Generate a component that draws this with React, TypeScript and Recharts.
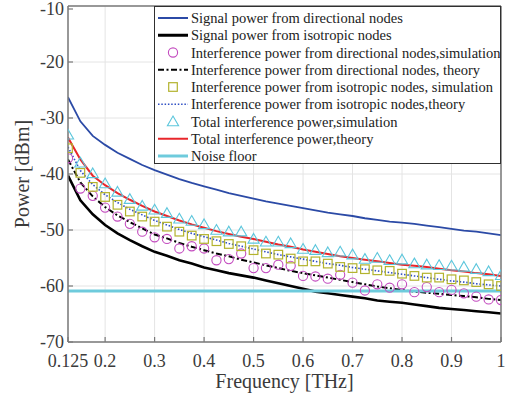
import {
  LineChart,
  Line,
  XAxis,
  YAxis,
  CartesianGrid,
  Legend,
  ReferenceLine,
  Label,
} from "recharts";

// frequency samples [THz]
const freq = [
  0.125, 0.15, 0.175, 0.2, 0.225, 0.25, 0.275, 0.3, 0.325, 0.35, 0.375, 0.4,
  0.425, 0.45, 0.475, 0.5, 0.525, 0.55, 0.575, 0.6, 0.625, 0.65, 0.675, 0.7,
  0.725, 0.75, 0.775, 0.8, 0.825, 0.85, 0.875, 0.9, 0.925, 0.95, 0.975, 1.0,
];

const signalDirectional = [
  -26.3, -30.6, -33.2, -34.8, -36.2, -37.3, -38.4, -39.3, -40.1, -40.9, -41.6,
  -42.2, -42.8, -43.4, -43.9, -44.4, -44.9, -45.3, -45.7, -46.1, -46.5, -46.9,
  -47.2, -47.5, -47.9, -48.2, -48.5, -48.7, -48.9, -49.2, -49.5, -49.8, -50.1,
  -50.3, -50.6, -50.9,
];

const signalIsotropic = [
  -40.3, -44.7, -47.2, -49.1, -50.6, -51.8, -52.9, -53.9, -54.6, -55.4, -56.0,
  -56.7, -57.2, -57.7, -58.1, -58.5, -59.0, -59.5, -60.0, -60.5, -61.0, -61.3,
  -61.6, -61.9, -62.2, -62.6, -62.8, -63.0, -63.3, -63.6, -63.9, -64.1, -64.3,
  -64.5, -64.7, -64.9,
];

const intDirSim = [
  -37.2, -42.6, -43.9, -46.0, -47.6, -48.9, -50.3, -51.3, -51.6, -53.3, -52.9,
  -53.3, -55.4, -55.2, -54.2, -56.8, -56.8, -56.2, -56.4, -58.2, -58.3, -58.7,
  -58.0, -59.4, -60.8, -59.7, -60.3, -59.7, -61.1, -60.2, -61.1, -60.7, -61.3,
  -61.9, -62.4, -62.5,
];

const intDirTheory = [
  -37.4, -41.5, -44.0, -45.9, -47.4, -48.6, -49.7, -50.8, -51.5, -52.3, -53.0,
  -53.6, -54.2, -54.7, -55.3, -55.8, -56.3, -56.8, -57.3, -57.7, -58.1, -58.5,
  -58.9, -59.3, -59.7, -60.1, -60.4, -60.7, -61.0, -61.2, -61.4, -61.6, -61.8,
  -62.0, -62.3, -62.5,
];

const intIsoSim = [
  -35.4, -39.8, -42.3, -44.1, -45.5, -46.7, -47.6, -48.5, -49.4, -50.3, -51.0,
  -51.6, -52.0, -52.5, -52.9, -53.6, -54.2, -54.4, -55.1, -55.6, -55.6, -56.0,
  -56.6, -56.8, -57.0, -57.2, -57.3, -57.8, -58.2, -58.5, -58.5, -58.8, -59.0,
  -59.3, -59.7, -60.0,
];

const intIsoTheory = [
  -35.2, -39.4, -41.9, -43.7, -45.1, -46.3, -47.3, -48.3, -49.1, -49.9, -50.6,
  -51.2, -51.8, -52.4, -52.9, -53.4, -53.9, -54.4, -54.8, -55.2, -55.6, -56.0,
  -56.3, -56.7, -57.0, -57.3, -57.6, -57.9, -58.2, -58.5, -58.8, -59.1, -59.3,
  -59.6, -59.8, -60.0,
];

const totalSim = [
  -33.0, -38.0, -39.9, -41.7, -43.2, -44.5, -45.7, -46.4, -47.0, -48.0, -48.4,
  -49.0, -50.0, -50.3, -50.3, -51.6, -52.1, -52.1, -52.4, -53.4, -53.6, -54.0,
  -53.9, -54.4, -55.2, -55.0, -55.4, -55.3, -56.0, -56.2, -56.3, -56.4, -56.6,
  -57.0, -57.4, -58.1,
];

const totalTheory = [
  -33.5, -37.4, -40.3, -42.0, -43.4, -44.6, -45.7, -46.7, -47.5, -48.3, -49.0,
  -49.6, -50.2, -50.7, -51.2, -51.6, -52.1, -52.6, -53.0, -53.5, -53.9, -54.3,
  -54.7, -55.0, -55.3, -55.6, -55.9, -56.2, -56.4, -56.6, -56.9, -57.2, -57.4,
  -57.7, -57.9, -58.2,
];

const noiseFloor = -60.9;

const xTicks = [0.125, 0.2, 0.3, 0.4, 0.5, 0.6, 0.7, 0.8, 0.9, 1];
const yTicks = [-70, -60, -50, -40, -30, -20, -10];

const legendLabels = [
  "Signal power from directional nodes",
  "Signal power from isotropic nodes",
  "Interference power from directional nodes,simulation",
  "Interference power from directional nodes, theory",
  "Interference power from isotropic nodes, simulation",
  "Interference power from isotropic nodes,theory",
  "Total interference power,simulation",
  "Total interference power,theory",
  "Noise floor",
];

const FONT = "Liberation Serif";
const AXIS = "#7a7a7a";
const TEXT = "#3a3a3a";
const BLUE = "#2b4aa6";
const MAGENTA = "#c34bbf";
const OLIVE = "#b3b32e";
const DOTBLUE = "#2f4fc4";
const CYAN = "#5cc6dc";
const RED = "#e8262b";
const NOISE = "#6ecbdc";

type LegendStyle = {
  kind: "line" | "circle" | "square" | "triangle";
  color: string;
  width?: number;
  dash?: string;
};

const legendStyles: LegendStyle[] = [
  { kind: "line", color: BLUE, width: 2 },
  { kind: "line", color: "#000", width: 3 },
  { kind: "circle", color: MAGENTA },
  { kind: "line", color: "#000", width: 2, dash: "6 2.5 2 2.5" },
  { kind: "square", color: OLIVE },
  { kind: "line", color: DOTBLUE, width: 1.6, dash: "1.5 1.8" },
  { kind: "triangle", color: CYAN },
  { kind: "line", color: RED, width: 2 },
  { kind: "line", color: NOISE, width: 3 },
];

const chartData = freq.map((f, i) => ({
  f,
  sigDir: signalDirectional[i],
  sigIso: signalIsotropic[i],
  dirSim: intDirSim[i],
  dirTh: intDirTheory[i],
  isoSim: intIsoSim[i],
  isoTh: intIsoTheory[i],
  totSim: totalSim[i],
  totTh: totalTheory[i],
}));

const drawMarker = (
  kind: string,
  color: string,
  cx: number,
  cy: number,
  key?: string
) => {
  if (kind === "circle")
    return (
      <circle key={key} cx={cx} cy={cy} r={4.6} fill="none" stroke={color} strokeWidth={1.1} />
    );
  if (kind === "square")
    return (
      <rect
        key={key}
        x={cx - 4.3}
        y={cy - 4.3}
        width={8.6}
        height={8.6}
        fill="none"
        stroke={color}
        strokeWidth={1.2}
      />
    );
  return (
    <path
      key={key}
      d={`M${cx},${cy - 5.5} L${cx + 5.6},${cy + 4.2} L${cx - 5.6},${cy + 4.2} Z`}
      fill="none"
      stroke={color}
      strokeWidth={1.1}
    />
  );
};

const markerDot = (kind: string, color: string) => (props: any) => {
  const { cx, cy, index } = props;
  if (cx == null || cy == null) return <g key={`${kind}-${index}`} />;
  return drawMarker(kind, color, cx, cy, `${kind}-${index}`);
};

const renderLegend = () => {
  const rowH = 17.25;
  return (
    <div
      style={{
        width: 347,
        height: 158,
        border: "1px solid #303030",
        background: "#fff",
        boxSizing: "border-box",
      }}
    >
      <svg width={345} height={156} style={{ display: "block" }}>
        {legendLabels.map((label, i) => {
          const s = legendStyles[i];
          const y = 11 + i * rowH;
          return (
            <g key={label}>
              {s.kind === "line" ? (
                <line
                  x1={3}
                  x2={33}
                  y1={y}
                  y2={y}
                  stroke={s.color}
                  strokeWidth={s.width}
                  strokeDasharray={s.dash}
                />
              ) : (
                drawMarker(s.kind, s.color, 18, y)
              )}
              <text
                x={36}
                y={y + 5}
                style={{ fontFamily: FONT, fontSize: 14.5 }}
                fill="#222"
              >
                {label}
              </text>
            </g>
          );
        })}
      </svg>
    </div>
  );
};

const X_GAP = 12;
const Y_GAP = 4;

// tick label plus a short inward tick mark, MATLAB style
const XTick = (props: any) => {
  const { x, y, payload } = props;
  const axisY = y - X_GAP;
  return (
    <g>
      <line x1={x} x2={x} y1={axisY} y2={axisY - 5} stroke={AXIS} strokeWidth={1.2} />
      <text
        x={x}
        y={y + 13}
        textAnchor="middle"
        style={{ fontFamily: FONT, fontSize: 18 }}
        fill={TEXT}
      >
        {String(payload.value)}
      </text>
    </g>
  );
};

const YTick = (props: any) => {
  const { x, y, payload } = props;
  const axisX = x + Y_GAP;
  return (
    <g>
      <line x1={axisX} x2={axisX + 5} y1={y} y2={y} stroke={AXIS} strokeWidth={1.2} />
      <text
        x={x}
        y={y + 6}
        textAnchor="end"
        style={{ fontFamily: FONT, fontSize: 18 }}
        fill={TEXT}
      >
        {String(payload.value)}
      </text>
    </g>
  );
};

export default function App() {
  return (
    <div
      style={{ position: "absolute", left: 0, top: 0, background: "#fff", fontFamily: FONT }}
    >
      <LineChart
        width={510}
        height={398}
        data={chartData}
        margin={{ top: 6, right: 9, bottom: 0, left: 0 }}
      >
        <CartesianGrid stroke="#e4e4e4" strokeWidth={1} />
        <XAxis
          dataKey="f"
          type="number"
          domain={[0.125, 1]}
          ticks={xTicks}
          allowDataOverflow
          height={56}
          tickLine={false}
          tickSize={0}
          tickMargin={X_GAP}
          tick={<XTick />}
          axisLine={{ stroke: AXIS, strokeWidth: 1.5 }}
        >
          <Label
            content={({ viewBox }: any) => (
              <text
                x={viewBox.x + viewBox.width / 2}
                y={388}
                textAnchor="middle"
                style={{ fontFamily: FONT, fontSize: 20 }}
                fill={TEXT}
              >
                Frequency [THz]
              </text>
            )}
          />
        </XAxis>
        <YAxis
          type="number"
          domain={[-70, -10]}
          ticks={yTicks}
          allowDataOverflow
          width={68}
          tickLine={false}
          tickSize={0}
          tickMargin={Y_GAP}
          tick={<YTick />}
          axisLine={{ stroke: AXIS, strokeWidth: 1.5 }}
        >
          <Label
            content={({ viewBox }: any) => {
              const cy = viewBox.y + viewBox.height / 2;
              return (
                <text
                  x={29}
                  y={cy}
                  transform={`rotate(-90 29 ${cy})`}
                  textAnchor="middle"
                  style={{ fontFamily: FONT, fontSize: 20 }}
                  fill={TEXT}
                >
                  Power [dBm]
                </text>
              );
            }}
          />
        </YAxis>
        <Legend
          layout="vertical"
          align="center"
          verticalAlign="middle"
          wrapperStyle={{ left: 154, top: 6, width: 347, height: 158 }}
          content={renderLegend}
        />

        <Line
          dataKey="sigDir"
          type="linear"
          stroke={BLUE}
          strokeWidth={1.8}
          dot={false}
          activeDot={false}
          isAnimationActive={false}
        />
        <Line
          dataKey="sigIso"
          type="linear"
          stroke="#000"
          strokeWidth={2.6}
          dot={false}
          activeDot={false}
          isAnimationActive={false}
        />
        <Line
          dataKey="dirSim"
          type="linear"
          stroke="none"
          dot={markerDot("circle", MAGENTA)}
          activeDot={false}
          isAnimationActive={false}
        />
        <Line
          dataKey="dirTh"
          type="linear"
          stroke="#000"
          strokeWidth={2}
          strokeDasharray="6 2.5 2 2.5"
          dot={false}
          activeDot={false}
          isAnimationActive={false}
        />
        <Line
          dataKey="isoSim"
          type="linear"
          stroke="none"
          dot={markerDot("square", OLIVE)}
          activeDot={false}
          isAnimationActive={false}
        />
        <Line
          dataKey="isoTh"
          type="linear"
          stroke={DOTBLUE}
          strokeWidth={1.6}
          strokeDasharray="1.5 1.8"
          dot={false}
          activeDot={false}
          isAnimationActive={false}
        />
        <Line
          dataKey="totSim"
          type="linear"
          stroke="none"
          dot={markerDot("triangle", CYAN)}
          activeDot={false}
          isAnimationActive={false}
        />
        <Line
          dataKey="totTh"
          type="linear"
          stroke={RED}
          strokeWidth={2}
          dot={false}
          activeDot={false}
          isAnimationActive={false}
        />
        <ReferenceLine y={noiseFloor} stroke={NOISE} strokeWidth={3} />
        {/* box: top and right edges */}
        <ReferenceLine y={-10} stroke={AXIS} strokeWidth={1.5} />
        <ReferenceLine x={1} stroke={AXIS} strokeWidth={1.5} />
      </LineChart>
    </div>
  );
}
